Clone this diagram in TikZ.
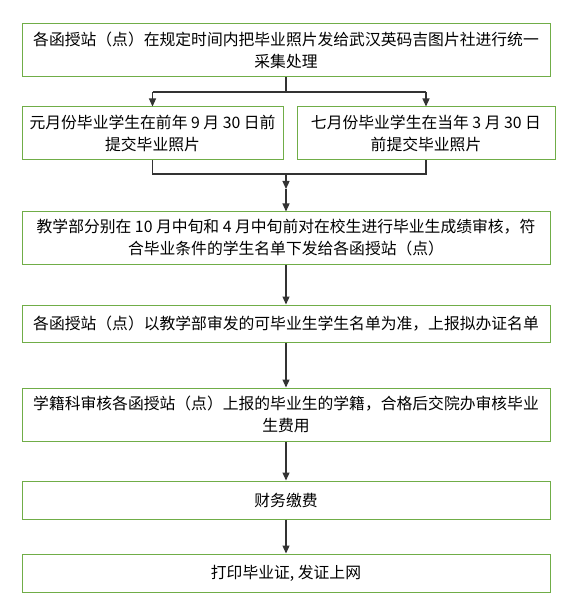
\documentclass[tikz,border=0pt]{standalone}
\usepackage{fontspec}
\setmainfont{Noto Sans CJK SC}
\usetikzlibrary{arrows.meta}
\definecolor{boxgreen}{RGB}{112,173,71}
\tikzset{
  stepbox/.style={draw=boxgreen, line width=1pt, rectangle, inner sep=0pt, align=center,
    font=\fontsize{15.8pt}{22pt}\selectfont, text=black},
  conn/.style={draw=black!80, line width=1.2pt},
  arr/.style={conn, -{Triangle[width=7pt,length=8pt]}}
}
\begin{document}
\begin{tikzpicture}[x=1pt,y=-1pt]
\useasboundingbox (0,0) rectangle (570,609);
\node[stepbox, minimum width=528pt, minimum height=53pt] (b1) at (286,50.5)
  {各函授站（点）在规定时间内把毕业照片发给武汉英码吉图片社进行统一\\采集处理};
\node[stepbox, minimum width=261pt, minimum height=53pt] (b2a) at (152.5,133.5)
  {元月份毕业学生在前年 9 月 30 日前\\提交毕业照片};
\node[stepbox, minimum width=258pt, minimum height=53pt] (b2b) at (426,133.5)
  {七月份毕业学生在当年 3 月 30 日\\前提交毕业照片};
\node[stepbox, minimum width=528pt, minimum height=52pt] (b3) at (286,238)
  {教学部分别在 10 月中旬和 4 月中旬前对在校生进行毕业生成绩审核，符\\合毕业条件的学生名单下发给各函授站（点）};
\node[stepbox, minimum width=528pt, minimum height=37pt] (b4) at (286,323.5)
  {各函授站（点）以教学部审发的可毕业生学生名单为准，上报拟办证名单};
\node[stepbox, minimum width=528pt, minimum height=53pt] (b5) at (286,414.5)
  {学籍科审核各函授站（点）上报的毕业生的学籍，合格后交院办审核毕业\\生费用};
\node[stepbox, minimum width=528pt, minimum height=38pt] (b6) at (286,500)
  {财务缴费};
\node[stepbox, minimum width=528pt, minimum height=38pt] (b7) at (286,573)
  {打印毕业证, 发证上网};
\coordinate (split) at (286,92);
\coordinate (merge) at (286,174);
\coordinate (mid) at (286,189);
\draw[conn] (b1.south) -- (split);
\draw[conn] (b2a.north |- split) -- (b2b.north |- split);
\draw[arr] (b2a.north |- split) -- (b2a.north);
\draw[arr] (b2b.north |- split) -- (b2b.north);
\draw[conn] (b2a.south) -- (b2a.south |- merge) -- (b2b.south |- merge) -- (b2b.south);
\draw[arr] (merge) -- (mid);
\draw[arr] (mid) -- (b3.north);
\draw[arr] (b3.south) -- (b4.north);
\draw[arr] (b4.south) -- (b5.north);
\draw[arr] (b5.south) -- (b6.north);
\draw[arr] (b6.south) -- (b7.north);
\end{tikzpicture}
\end{document}
